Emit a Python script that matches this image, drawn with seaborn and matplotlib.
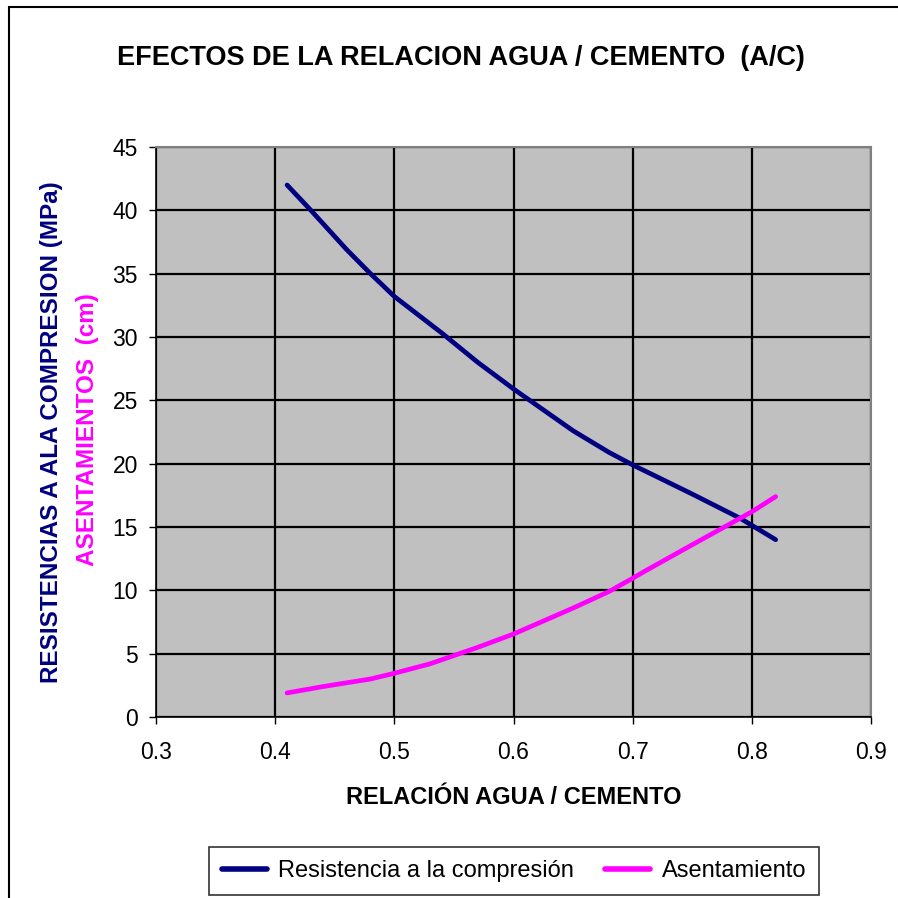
import matplotlib
matplotlib.use("Agg")
import matplotlib.pyplot as plt
import matplotlib.patches as mpatches
import seaborn as sns
import pandas as pd

# Water/cement ratio and measured properties
ac_resistencia = [0.41, 0.43, 0.46, 0.48, 0.50, 0.54, 0.57, 0.60, 0.65, 0.68, 0.70, 0.75, 0.79, 0.82]
resistencia = [42.0, 40.0, 36.9, 35.0, 33.2, 30.3, 28.0, 25.9, 22.6, 20.9, 19.9, 17.6, 15.7, 14.0]

ac_asentamiento = [0.41, 0.44, 0.48, 0.50, 0.53, 0.57, 0.60, 0.65, 0.68, 0.70, 0.71, 0.75, 0.80, 0.82]
asentamiento = [1.9, 2.4, 3.0, 3.45, 4.2, 5.5, 6.55, 8.6, 9.9, 10.95, 11.5, 13.6, 16.2, 17.4]

x_ticks = [0.3, 0.4, 0.5, 0.6, 0.7, 0.8, 0.9]
y_ticks = [0, 5, 10, 15, 20, 25, 30, 35, 40, 45]

NAVY = "#000080"
MAGENTA = "#FF00FF"

sns.set_style("white")
FONT = ["Liberation Sans", "DejaVu Sans"]
plt.rcParams["font.family"] = FONT
plt.rcParams["text.color"] = "black"
plt.rcParams["xtick.color"] = "black"
plt.rcParams["ytick.color"] = "black"
plt.rcParams["xtick.labelcolor"] = "black"
plt.rcParams["ytick.labelcolor"] = "black"

df = pd.concat([
    pd.DataFrame({"ac": ac_resistencia, "valor": resistencia,
                  "serie": "Resistencia a la compresión"}),
    pd.DataFrame({"ac": ac_asentamiento, "valor": asentamiento,
                  "serie": "Asentamiento"}),
], ignore_index=True)

fig = plt.figure(figsize=(8.98, 8.98), dpi=100)
ax = fig.add_axes([156 / 898, 1 - 717 / 898, (871 - 156) / 898, (717 - 147) / 898])
ax.set_facecolor("#C0C0C0")

sns.lineplot(data=df, x="ac", y="valor", hue="serie",
             palette={"Resistencia a la compresión": NAVY, "Asentamiento": MAGENTA},
             linewidth=3.4, sort=False, estimator=None, ax=ax, legend=False, zorder=3)

ax.set_xlim(0.3, 0.9)
ax.set_ylim(0, 45)
ax.set_xticks(x_ticks)
ax.set_yticks(y_ticks)
ax.set_xticklabels([f"{v:.1f}" for v in x_ticks])
ax.set_yticklabels([str(v) for v in y_ticks])
ax.grid(True, color="black", linewidth=1.6, zorder=1)
ax.set_axisbelow(True)
ax.tick_params(axis="both", which="major", direction="out", length=5, width=1,
               color="black", labelcolor="black", labelsize=16.5,
               left=True, bottom=True)
ax.tick_params(axis="x", pad=12)
ax.tick_params(axis="y", pad=8)
for lbl in ax.get_xticklabels() + ax.get_yticklabels():
    lbl.set_family(FONT)

for side in ("left", "bottom"):
    ax.spines[side].set_color("black")
    ax.spines[side].set_linewidth(1.2)
for side in ("top", "right"):
    ax.spines[side].set_color("#808080")
    ax.spines[side].set_linewidth(1.5)

ax.set_xlabel("")
ax.set_ylabel("")

# Outer chart frame
fig.patches.append(mpatches.Rectangle((9 / 898, -0.1), 1.2, 1 - 7 / 898 + 0.1,
                                      transform=fig.transFigure, fill=False,
                                      edgecolor="black", linewidth=1.5))

fig.text(461 / 898, 1 - 58 / 898, "EFECTOS DE LA RELACION AGUA / CEMENTO  (A/C)",
         ha="center", va="center", fontsize=19.5, fontweight="bold",
         color="black", family=FONT)
fig.text(514 / 898, 1 - 797 / 898, "RELACIÓN AGUA / CEMENTO",
         ha="center", va="center", fontsize=17, fontweight="bold",
         color="black", family=FONT)
fig.text(52 / 898, 1 - 432 / 898, "RESISTENCIAS A ALA COMPRESION (MPa)",
         ha="center", va="center", rotation=90, fontsize=17.5, fontweight="bold",
         color=NAVY, family=FONT)
fig.text(88 / 898, 1 - 430 / 898, "ASENTAMIENTOS  (cm)",
         ha="center", va="center", rotation=90, fontsize=17.5, fontweight="bold",
         color=MAGENTA, family=FONT)

handles = [plt.Line2D([], [], color=NAVY, linewidth=4),
           plt.Line2D([], [], color=MAGENTA, linewidth=4)]
leg = fig.legend(handles, ["Resistencia a la compresión", "Asentamiento"],
                 loc="center", bbox_to_anchor=(514 / 898, 1 - 871 / 898),
                 ncol=2, frameon=True, fancybox=False, shadow=False,
                 prop={"family": FONT, "size": 17}, handlelength=1.9,
                 columnspacing=1.3, handletextpad=0.5, borderpad=0.55,
                 borderaxespad=0, labelcolor="black")
leg.get_frame().set_edgecolor("black")
leg.get_frame().set_linewidth(1.2)

fig.savefig("out.png", dpi=100, facecolor="white")
